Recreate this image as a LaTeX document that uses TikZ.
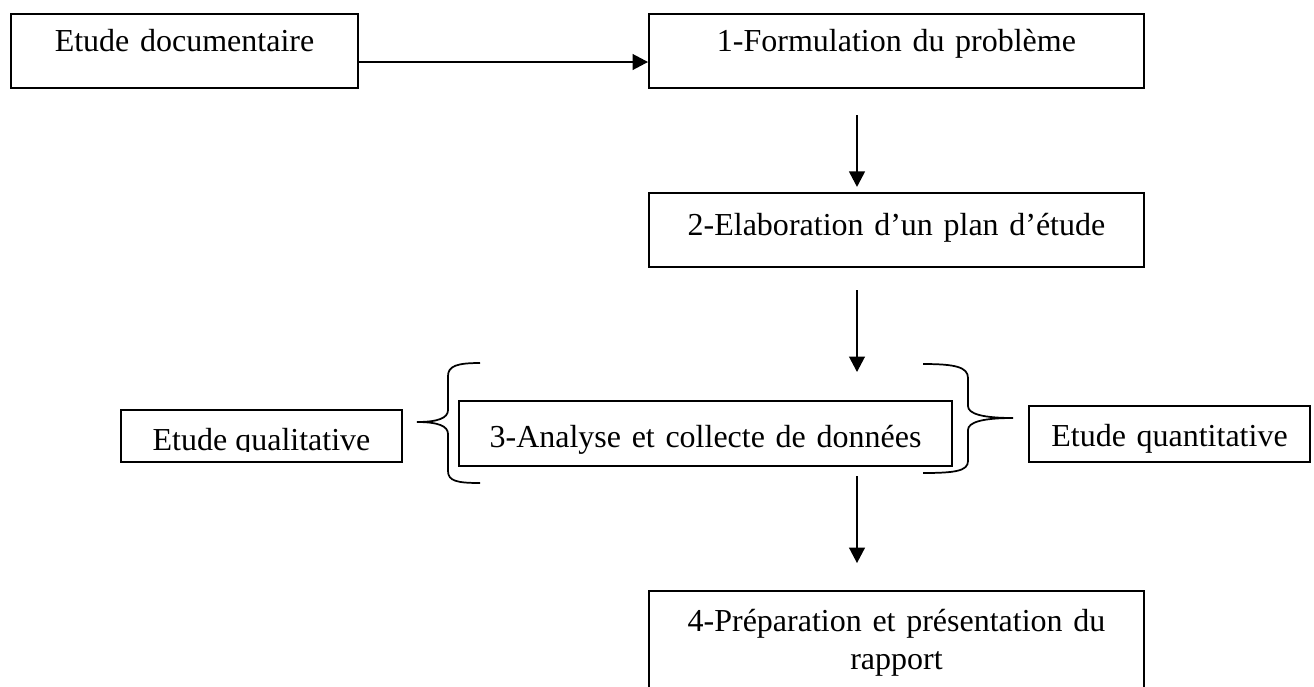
\documentclass[tikz,border=0pt]{standalone}
\usepackage{fontspec}
\setmainfont{Liberation Serif}
\usetikzlibrary{arrows.meta}
\begin{document}
\begin{tikzpicture}[x=0.375pt,y=-0.375pt,
  every node/.style={font=\fontsize{12pt}{14.25pt}\selectfont},
  box/.style={draw, line width=0.75pt, inner sep=0pt, align=center, anchor=base},
  arr/.style={line width=0.75pt, -{Triangle[length=5.8pt,width=5.9pt]}},
  brace/.style={line width=0.65pt}]
\useasboundingbox (0,0) rectangle (1314,686);
\begin{scope}
\clip (0,0) rectangle (1314,686);

% main chain of steps
\node[box, text width=130.1pt, text height=13.9pt, text depth=13.9pt] (doc) at (184.5,51) {Etude documentaire};
\node[box, text width=185.6pt, text height=13.9pt, text depth=13.9pt] (form) at (896.5,51) {1-Formulation du problème};
\node[box, text width=185.6pt, text height=15.75pt, text depth=12pt] (plan) at (896.5,235) {2-Elaboration d’un plan d’étude};
\node[box, text width=184.9pt, text height=17.25pt, text depth=7.1pt] (anal) at (705.5,447) {3-Analyse et collecte de données};
\node[box, text width=185.6pt, text height=15pt, text depth=33.4pt] (rapp) at (896.5,631) {4-Préparation et présentation du\\rapport};

% side boxes
\node[box, text width=105.4pt, text height=15pt, text depth=4.5pt] (qual) at (261.5,450) {};
\begin{scope}
  \clip (121,405) rectangle (402,451.5);
  \node[anchor=base, inner sep=0pt] at (261.5,450) {Etude qualitative};
\end{scope}
\node[box, text width=105.4pt, text height=15pt, text depth=6pt] (quant) at (1169.5,446) {Etude quantitative};

% connectors
\coordinate (ax) at (857,0);
\coordinate (hy) at (0,62);
\draw[arr] (doc.east |- hy) -- (form.west |- hy);
\draw[arr, shorten <=9.75pt, shorten >=1.9pt] (form.south -| ax) -- (plan.north -| ax);
\draw[arr, shorten <=8.25pt, shorten >=10.5pt] (plan.south -| ax) -- (anal.north -| ax);
\draw[arr, shorten <=3.4pt, shorten >=10.1pt] (anal.south -| ax) -- (rapp.north -| ax);

% braces
\draw[brace] (480,363) .. controls (457,363) and (448,366) .. (448,376) -- (448,410)
  .. controls (448,418) and (438,422) .. (417,422)
  .. controls (438,422) and (448,426) .. (448,434) -- (448,471)
  .. controls (448,481) and (457,483) .. (480,483);
\draw[brace] (923,364) .. controls (955,364) and (968,367) .. (968,378) -- (968,406)
  .. controls (968,414) and (983,418) .. (1013,418)
  .. controls (983,418) and (968,422) .. (968,430) -- (968,461)
  .. controls (968,471) and (955,473) .. (923,473);
\end{scope}
\end{tikzpicture}
\end{document}
